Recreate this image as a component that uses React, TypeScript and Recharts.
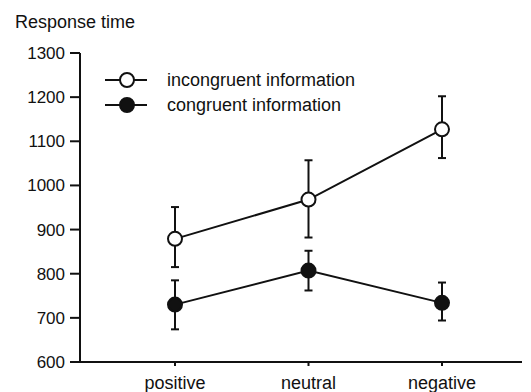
import React from "react";
import { LineChart, Line, XAxis, YAxis, ErrorBar } from "recharts";

const conditions = ["positive", "neutral", "negative"];
const incongruent = [879, 968, 1127];
const incongruentErr = [
  [64, 72],
  [86, 89],
  [65, 75],
];
const congruent = [730, 807, 734];
const congruentErr = [
  [56, 55],
  [45, 45],
  [40, 46],
];
const yTicks = [600, 700, 800, 900, 1000, 1100, 1200, 1300];

const data = conditions.map((c, i) => ({
  name: c,
  inc: incongruent[i],
  incErr: incongruentErr[i],
  con: congruent[i],
  conErr: congruentErr[i],
}));

const INK = "#111";
const FONT = "'Liberation Sans', Arial, sans-serif";

const legendItems = [
  { label: "incongruent information", fill: "#fff" },
  { label: "congruent information", fill: INK },
];

function LegendBox() {
  return (
    <div style={{ fontFamily: FONT, fontSize: 18, color: INK }}>
      {legendItems.map((it) => (
        <div key={it.label} style={{ display: "flex", alignItems: "center", height: 25 }}>
          <svg width={62} height={20} style={{ display: "block" }}>
            <line x1={0} y1={10} x2={42} y2={10} stroke={INK} strokeWidth={2} />
            <circle cx={22} cy={10} r={7} fill={it.fill} stroke={INK} strokeWidth={2} />
          </svg>
          <span style={{ lineHeight: "20px" }}>{it.label}</span>
        </div>
      ))}
    </div>
  );
}

// y tick labels drawn by hand so the font size sticks
function YTick(props: any) {
  const { x, y, payload } = props;
  return (
    <text
      x={x}
      y={y}
      dy={6}
      textAnchor="end"
      fill={INK}
      style={{ fontFamily: FONT, fontSize: 17 }}
    >
      {payload.value}
    </text>
  );
}

export default function App() {
  return (
    <div style={{ position: "absolute", left: 0, top: 0, width: 531, height: 392, background: "#fff" }}>
      <div
        style={{
          position: "absolute",
          left: 15,
          top: 12.5,
          fontFamily: FONT,
          fontSize: 18,
          lineHeight: 1,
          color: INK,
        }}
      >
        Response time
      </div>
      <LineChart
        width={531}
        height={392}
        data={data}
        margin={{ top: 53, right: 9, bottom: 0, left: 0 }}
      >
        <XAxis
          dataKey="name"
          height={30}
          padding={{ left: 95, right: 80 }}
          axisLine={{ stroke: INK, strokeWidth: 2 }}
          tickLine={{ stroke: INK, strokeWidth: 2 }}
          tickSize={4}
          tickMargin={10}
          tick={{ fill: INK, fontSize: 18, fontFamily: FONT }}
        />
        <YAxis
          type="number"
          domain={[600, 1300]}
          ticks={yTicks}
          width={80}
          interval={0}
          axisLine={{ stroke: INK, strokeWidth: 2 }}
          tickLine={{ stroke: INK, strokeWidth: 2 }}
          tickSize={10}
          tickMargin={5}
          tick={<YTick />}
        />
        <Line
          dataKey="inc"
          stroke={INK}
          strokeWidth={2}
          isAnimationActive={false}
          dot={{ r: 7, fill: "#fff", stroke: INK, strokeWidth: 2 }}
        >
          <ErrorBar dataKey="incErr" direction="y" width={4} stroke={INK} strokeWidth={2} />
        </Line>
        <Line
          dataKey="con"
          stroke={INK}
          strokeWidth={2}
          isAnimationActive={false}
          dot={{ r: 7, fill: INK, stroke: INK, strokeWidth: 2 }}
        >
          <ErrorBar dataKey="conErr" direction="y" width={4} stroke={INK} strokeWidth={2} />
        </Line>
      </LineChart>
      <div style={{ position: "absolute", left: 105, top: 67, width: 300 }}>
        <LegendBox />
      </div>
    </div>
  );
}
